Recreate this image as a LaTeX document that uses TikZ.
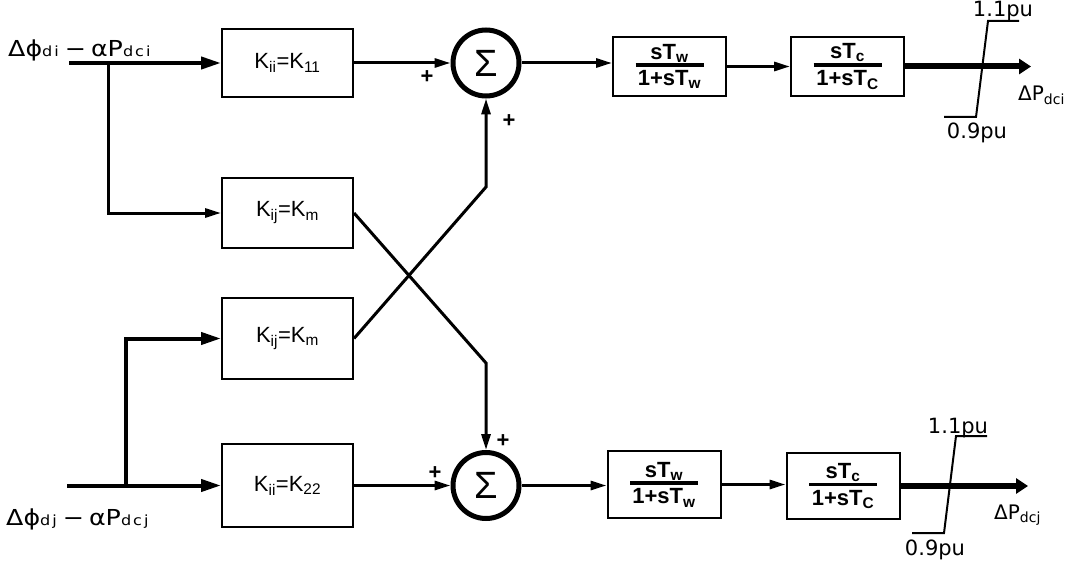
\documentclass[tikz,border=0pt]{standalone}
\usepackage{fontspec}
\setmainfont{Liberation Sans}
\newfontfamily\dvfont{DejaVu Sans}
\newfontfamily\dvwide[FakeStretch=1.15]{DejaVu Sans}
\usetikzlibrary{arrows.meta,calc}
\newcommand\myfrac[2]{\vbox{\hbox to 68pt{\hss #1\hss}\kern1pt\hrule height 3.5pt\kern4pt\hbox to 68pt{\hss #2\hss}}}
\tikzset{
  blk/.style={draw, line width=2pt, inner sep=0pt, minimum width=131pt, font=\fontsize{22}{26}\selectfont},
  fbox/.style={draw, line width=2pt, inner sep=0pt, minimum width=113pt, font=\bfseries\fontsize{22}{26}\selectfont},
  sumc/.style={circle, draw, line width=5pt, inner sep=0pt, minimum size=66pt, font=\fontsize{38}{40}\selectfont},
  arr/.style={line width=3pt, -{Triangle[length=16pt,width=9pt]}},
  thk/.style={line width=4pt, -{Triangle[length=20pt,width=12pt]}},
  outa/.style={line width=6pt, -{Triangle[length=12pt,width=15pt]}},
  lim/.style={line width=2pt},
  plus/.style={font=\bfseries\fontsize{22}{24}\selectfont, inner sep=0pt},
  pu/.style={anchor=base, inner sep=0pt, font=\dvfont\fontsize{21}{24}\selectfont},
  outl/.style={anchor=base west, inner sep=0pt, font=\dvfont\fontsize{20}{22}\selectfont},
  inl/.style={anchor=base west, inner sep=0pt, font=\dvwide\fontsize{22}{24}\selectfont}
}
\begin{document}
\begin{tikzpicture}[x=1pt,y=-1pt]
\useasboundingbox (0,0) rectangle (1075,567);
% gain blocks
\node[blk, minimum height=68pt] (b11) at (287.5,63) {K\textsubscript{ii}=K\textsubscript{11}};
\node[blk, minimum height=70pt] (b12) at (287.5,213) {K\textsubscript{ij}=K\textsubscript{m}};
\node[blk, minimum height=81pt] (b21) at (287.5,338.5) {K\textsubscript{ij}=K\textsubscript{m}};
\node[blk, minimum height=83pt] (b22) at (287.5,485.5) {K\textsubscript{ii}=K\textsubscript{22}};
% summing junctions
\node[sumc] (s1) at (486,63) {Σ};
\node[sumc] (s2) at (486,485.5) {Σ};
% filters
\node[fbox, minimum height=59pt] (w1) at (669.5,66.5) {\myfrac{sT\textsubscript{w}}{1+sT\textsubscript{w}}};
\node[fbox, minimum height=59pt] (c1) at (847.5,66.5) {\myfrac{sT\textsubscript{c}}{1+sT\textsubscript{C}}};
\node[fbox, minimum height=67pt] (w2) at (664,484.5) {\myfrac{sT\textsubscript{w}}{1+sT\textsubscript{w}}};
\node[fbox, minimum height=66pt] (c2) at (843,486) {\myfrac{sT\textsubscript{c}}{1+sT\textsubscript{C}}};
% coordinates
\coordinate (in1) at (69,63);
\coordinate (j1) at (108,63);
\coordinate (in2) at (67,485.5);
\coordinate (j2) at (126,485.5);
\coordinate (k1) at (486,363);
\coordinate (k2) at (486,187);
\coordinate (o1) at (1031,66.5);
\coordinate (o2) at (1028,486);
% connectors
\draw[thk] (in1) -- (b11.west);
\draw[arr] (j1) |- (b12.west);
\draw[thk] (in2) -- (b22.west);
\draw[thk] (j2) |- (b21.west);
\draw[arr] (b12.east) -- (k1) -- (s2.north);
\draw[arr] (b21.east) -- (k2) -- (s1.south);
\draw[arr] (b11.east) -- (s1.west);
\draw[arr] (b22.east) -- (s2.west);
\draw[arr] (s1.east) -- (s1.east -| w1.west);
\draw[arr] (w1.east) -- (c1.west);
\draw[outa] (c1.east) -- (o1);
\draw[arr] (s2.east) -- (s2.east -| w2.west);
\draw[arr] (w2.east) -- (w2.east -| c2.west);
\draw[outa] (c2.east) -- (o2);
% limiters
\draw[lim] (1019,21) -- (988,21) -- (976,117) -- (944,117);
\draw[lim] (987,436) -- (956,436) -- (944,533) -- (912,533);
% labels
\node[pu] (t1) at (1003,17) {1.1pu};
\node[pu] (t2) at (977,138) {0.9pu};
\node[pu] (t3) at (958,433) {1.1pu};
\node[pu] (t4) at (935,555) {0.9pu};
\node[outl] (op1) at (1018,101) {ΔP\textsubscript{dci}};
\node[outl] (op2) at (994,519) {ΔP\textsubscript{dcj}};
\node[inl] (ip1) at (8,57) {Δϕ{\fontsize{14}{14}\selectfont d\kern2pt i}\kern6pt−\kern5ptαP{\fontsize{14}{14}\selectfont d\kern2pt c\kern2pt i}};
\node[inl] (ip2) at (6,525) {Δϕ{\fontsize{14}{14}\selectfont d\kern2pt j}\kern6pt−\kern5ptαP{\fontsize{14}{14}\selectfont d\kern2pt c\kern2pt j}};
% signs
\node[plus] (p1) at (427,77) {+};
\node[plus] (p2) at (509,121) {+};
\node[plus] (p3) at (435,473) {+};
\node[plus] (p4) at (503,441) {+};
\end{tikzpicture}
\end{document}
